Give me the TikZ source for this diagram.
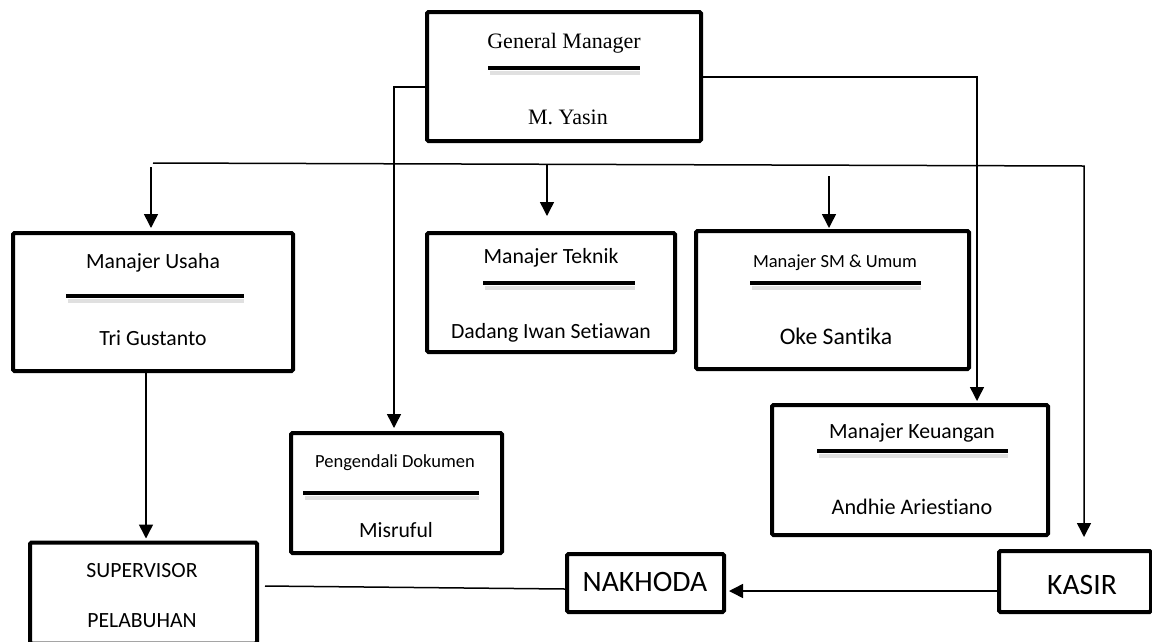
\documentclass[tikz,border=0pt]{standalone}
\usepackage{fontspec}
\setmainfont{Carlito}[Ligatures=NoCommon]
\newfontfamily\timesfont{Liberation Serif}
\usetikzlibrary{arrows.meta}

\begin{document}
\begin{tikzpicture}[x=1pt,y=-1pt,
box/.style={draw, line width=4pt, rounded corners=1.5pt, inner sep=0pt},
bar/.style={line width=4.5pt},
barshade/.style={line width=4pt, black!12},
conn/.style={line width=1.5pt},
arr/.style={line width=1.5pt, -{Triangle[width=14pt,length=14pt]}},
txt/.style={font=\fontsize{21.7}{26}\selectfont},
gmtxt/.style={font=\timesfont\fontsize{22}{26}\selectfont},
bigtxt/.style={font=\fontsize{29.6}{34}\selectfont},
smalltxt/.style={font=\fontsize{18.5}{22}\selectfont}]
\useasboundingbox (0,0) rectangle (1152,641);
% draws boxes
\node[box, minimum width=274pt, minimum height=129pt] (gm) at (564,76.5) {};
\node[box, minimum width=280pt, minimum height=138pt] (usaha) at (153,302) {};
\node[box, minimum width=248pt, minimum height=119pt] (teknik) at (551,292.5) {};
\node[box, minimum width=273pt, minimum height=138pt] (sdm) at (832.5,300) {};
\node[box, minimum width=211pt, minimum height=120pt] (dokumen) at (396.5,493) {};
\node[box, minimum width=276pt, minimum height=130pt] (keuangan) at (910,470) {};
\node[box, minimum width=227pt, minimum height=101pt] (supervisor) at (143.5,593) {};
\node[box, minimum width=157pt, minimum height=58pt] (nakhoda) at (645.5,583) {};
\node[box, minimum width=152pt, minimum height=61pt] (kasir) at (1075,581.5) {};
% labels boxes
\node[gmtxt] (gm-title) at (564,43) {General Manager};
\node[gmtxt] (gm-name) at (568,117) {M. Yasin};
\node[txt] (usaha-title) at (153,263) {Manajer Usaha};
\node[txt] (usaha-name) at (153,338) {Tri Gustanto};
\node[txt] (teknik-title) at (551,258) {Manajer Teknik};
\node[txt] (teknik-name) at (551,333) {Dadang Iwan Setiawan};
\node[smalltxt] (sdm-title) at (835,263) {Manajer SM \& Umum};
\node[font=\fontsize{23.7}{28}\selectfont] (sdm-name) at (836,336) {Oke Santika};
\node[smalltxt] (dokumen-title) at (395,463) {Pengendali Dokumen};
\node[txt] (dokumen-name) at (396,530) {Misruful};
\node[txt] (keuangan-title) at (912,433) {Manajer Keuangan};
\node[txt, font=\fontsize{22.2}{26}\selectfont] (keuangan-name) at (912,507) {Andhie Ariestiano};
\node[txt] (supervisor-top) at (142,571) {SUPERVISOR};
\node[txt] (supervisor-bottom) at (142,621) {PELABUHAN};
\node[bigtxt] (nakhoda-label) at (645,582) {NAKHODA};
\node[bigtxt] (kasir-label) at (1082,585) {KASIR};
% draws name bars
\draw[barshade] (490,73) -- (640,73);
\draw[bar] (488,68) -- (640,68);
\draw[barshade] (68,301) -- (244,301);
\draw[bar] (66,296) -- (244,296);
\draw[barshade] (485,288) -- (635,288);
\draw[bar] (483,283) -- (635,283);
\draw[barshade] (752,288) -- (921,288);
\draw[bar] (750,283) -- (921,283);
\draw[barshade] (305,498) -- (479,498);
\draw[bar] (303,493) -- (479,493);
\draw[barshade] (819,456) -- (1008,456);
\draw[bar] (817,451) -- (1008,451);
% draws edges
\coordinate (busL) at (153,163);
\coordinate (busR) at (1084,166);
\draw[arr] ([yshift=-10.5pt]gm.west) -| ([xshift=-2.5pt,yshift=3pt]dokumen.north);
\draw[arr] ([yshift=-0.5pt]gm.east) -| ([xshift=67pt,yshift=2pt]keuangan.north);
\draw[arr] (busL) -- (busR) -- ([xshift=9pt,yshift=12pt]kasir.north);
\draw[arr] ([xshift=-2pt,yshift=-4pt]usaha.north |- busL) -- ([xshift=-2pt,yshift=3pt]usaha.north);
\draw[arr] ([xshift=-4pt,yshift=-1pt]teknik.north |- busL) -- ([xshift=-4pt,yshift=15pt]teknik.north);
\draw[arr] ([xshift=-3.5pt,yshift=53pt]sdm.north) -- ([xshift=-3.5pt,yshift=1pt]sdm.north);
\draw[arr] ([xshift=-7pt]usaha.south) -- ([xshift=2.5pt,yshift=2pt]supervisor.north);
\draw[conn] ([xshift=6pt,yshift=7pt]supervisor.east) -- ([yshift=-6pt]nakhoda.west);
\draw[arr] ([yshift=-9.5pt]kasir.west) -- ([xshift=3pt,yshift=-8pt]nakhoda.east);
\end{tikzpicture}
\end{document}
